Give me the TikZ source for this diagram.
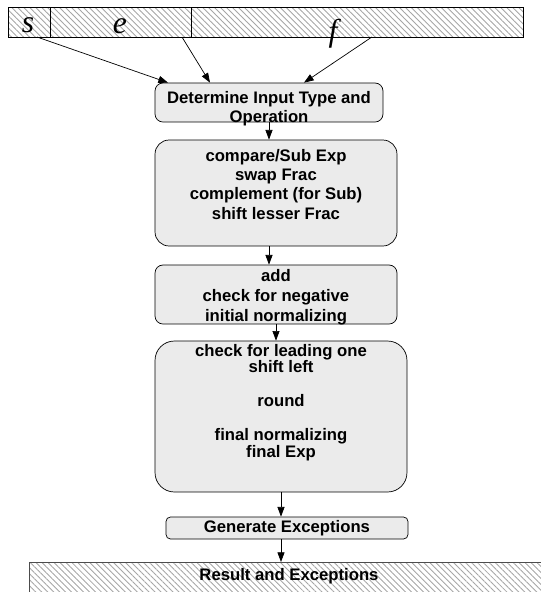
\documentclass[tikz,border=0pt]{standalone}
\usepackage{fontspec}
\setmainfont{Liberation Serif}
\setsansfont{Liberation Sans}
\usetikzlibrary{positioning, arrows.meta, patterns.meta}

\begin{document}
\begin{tikzpicture}[x=0.02cm, y=-0.02cm,
    cell/.style={draw, outer sep=0pt, inner sep=0pt, minimum height=0.6cm,
      pattern={Lines[angle=-45, distance=2.4pt, line width=0.5pt]}, pattern color=black!35},
    box/.style={draw, fill=black!8, inner sep=0pt},
    txt/.style={font=\sffamily\bfseries\fontsize{9.5}{11}\selectfont, align=center, inner sep=0pt},
    letter/.style={font=\itshape\fontsize{18}{18}\selectfont, inner sep=0pt, anchor=base},
    arr/.style={-{Triangle[length=5.5pt, width=4pt]}}]
    \clip (0,0) rectangle (541,592);
    % input word
    \node[cell, minimum width=0.84cm] (scell) at (29,22) {};
    \node[cell, minimum width=2.82cm, right=0pt of scell] (ecell) {};
    \node[cell, minimum width=6.64cm, right=0pt of ecell] (fcell) {};
    \node[letter] (sl) at (28,32) {s};
    \node[letter] (el) at (120,33) {e};
    \node[letter] (fl) at (333,41) {f};
    % stages
    \node[box, rounded corners=4.5pt, minimum width=4.56cm, minimum height=0.78cm] (det) at (269,102.5) {};
    \node[txt, below=0.16cm of det.north] (dett) {Determine Input Type and\\Operation};
    \node[box, rounded corners=8pt, minimum width=4.84cm, minimum height=2.12cm] (cmp) at (276,193) {};
    \node[txt, below=0.18cm of cmp.north] (cmpt) {compare/Sub Exp\\swap Frac\\complement (for Sub)\\shift lesser Frac};
    \node[box, rounded corners=4.5pt, minimum width=4.84cm, minimum height=1.18cm] (add) at (276,294.5) {};
    \node[txt, font=\sffamily\bfseries\fontsize{9.5}{11.6}\selectfont, below=0.08cm of add.north] (addt) {add\\check for negative\\initial normalizing};
    \node[box, rounded corners=11pt, minimum width=5.04cm, minimum height=3.02cm] (norm) at (281,416.5) {};
    \node[txt, font=\sffamily\bfseries\fontsize{9.5}{9.6}\selectfont, below=0.06cm of norm.north] (normt) {check for leading one\\shift left\\[9.6pt]round\\[9.6pt]final normalizing\\final Exp};
    \node[box, rounded corners=2.5pt, minimum width=4.84cm, minimum height=0.44cm] (exc) at (287,528) {};
    \node[txt] (exct) at (exc) {Generate Exceptions};
    \node[cell, draw=black!70, minimum width=10.4cm, minimum height=0.68cm, anchor=north west] (res) at (29,562) {};
    \node[txt] (rest) at (289,576) {Result and Exceptions};
    % connections
    \draw[arr] ([xshift=0.16cm]scell.south) -- ([xshift=-2.02cm]det.north);
    \draw[arr] ([xshift=1.23cm]ecell.south) -- ([xshift=-1.18cm]det.north);
    \draw[arr] ([xshift=0.3cm]fcell.south) -- ([xshift=0.7cm]det.north);
    \draw[arr] (det.south) -- (det.south |- cmp.north);
    \draw[arr] (det.south |- cmp.south) -- (det.south |- add.north);
    \draw[arr] (add.south) -- (add.south |- norm.north);
    \draw[arr] (norm.south) -- (norm.south |- exc.north);
    \draw[arr] (norm.south |- exc.south) -- (norm.south |- res.north);
\end{tikzpicture}
\end{document}
